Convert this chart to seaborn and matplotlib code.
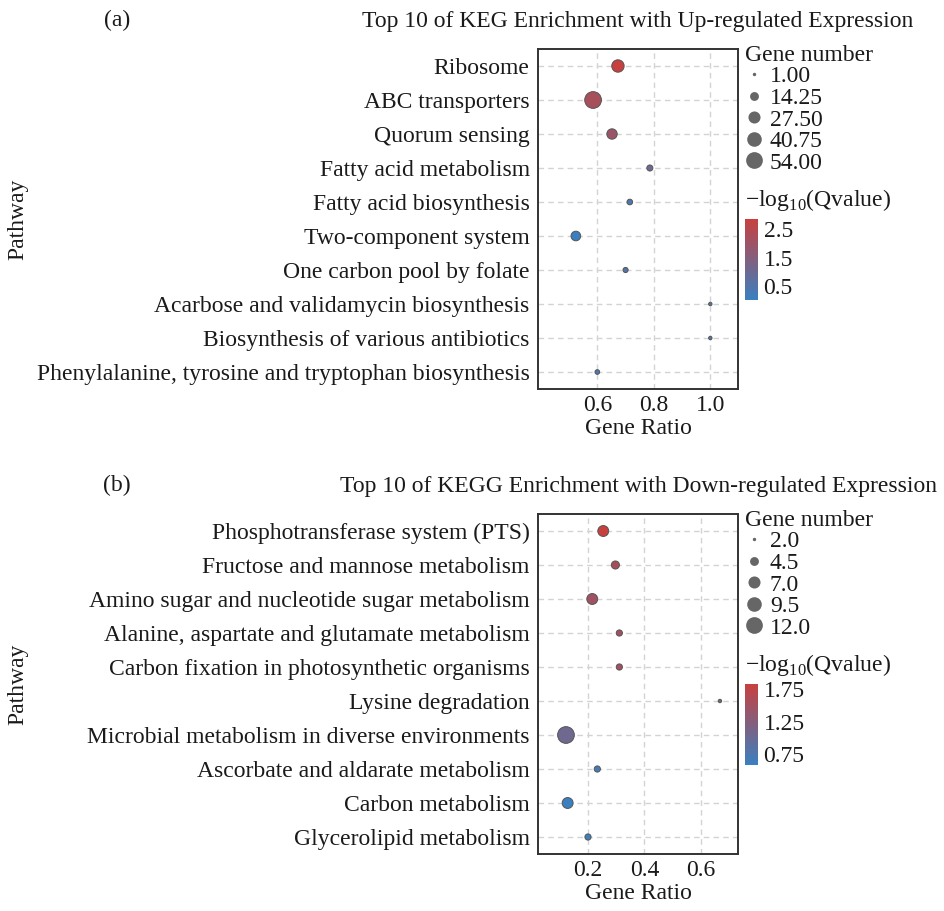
"""
KEGG enrichment bubble plots (up / down regulated)
"""
import numpy as np
import pandas as pd
import matplotlib
matplotlib.use("Agg")
import matplotlib.pyplot as plt
import matplotlib.cm as cm
from matplotlib.colors import LinearSegmentedColormap, Normalize
from matplotlib.lines import Line2D
import seaborn as sns

sns.set_style("white")
plt.rcParams["font.family"] = ["Liberation Serif", "DejaVu Serif"]
plt.rcParams["mathtext.fontset"] = "custom"
plt.rcParams["mathtext.rm"] = "Liberation Serif"
plt.rcParams["text.color"] = "#1a1a1a"
plt.rcParams["xtick.color"] = "#1a1a1a"
plt.rcParams["ytick.color"] = "#1a1a1a"
plt.rcParams["axes.labelcolor"] = "#1a1a1a"

W, H = 944, 911
FS = 17
CMAP = LinearSegmentedColormap.from_list("bluered", ["#3a80c0", "#c8403e"])
SMIN, SMAX = 6, 145

# --- (a) up-regulated ---
UP_PATHWAYS = [
    "Ribosome",
    "ABC transporters",
    "Quorum sensing",
    "Fatty acid metabolism",
    "Fatty acid biosynthesis",
    "Two-component system",
    "One carbon pool by folate",
    "Acarbose and validamycin biosynthesis",
    "Biosynthesis of various antibiotics",
    "Phenylalanine, tyrosine and tryptophan biosynthesis",
]
UP_RATIO = [0.673, 0.585, 0.652, 0.786, 0.715, 0.524, 0.700, 1.0, 1.0, 0.600]
UP_GENES = [29, 54, 20, 6, 5, 17, 4, 1, 1, 3]
UP_QVAL = [2.85, 2.2, 1.95, 1.05, 0.45, 0.02, 0.55, 0.5, 0.5, 0.35]
UP_XTICKS = [0.6, 0.8, 1.0]
UP_QTICKS = [0.5, 1.0, 1.5, 2.0, 2.5]
UP_QLABELS = ["0.5", "", "1.5", "", "2.5"]

# --- (b) down-regulated ---
DOWN_PATHWAYS = [
    "Phosphotransferase system (PTS)",
    "Fructose and mannose metabolism",
    "Amino sugar and nucleotide sugar metabolism",
    "Alanine, aspartate and glutamate metabolism",
    "Carbon fixation in photosynthetic organisms",
    "Lysine degradation",
    "Microbial metabolism in diverse environments",
    "Ascorbate and aldarate metabolism",
    "Carbon metabolism",
    "Glycerolipid metabolism",
]
DOWN_RATIO = [0.254, 0.297, 0.215, 0.311, 0.311, 0.667, 0.122, 0.233, 0.128, 0.200]
DOWN_GENES = [6, 4, 6, 3, 3, 2, 12, 3, 6, 3]
DOWN_QVAL = [1.83, 1.55, 1.48, 1.5, 1.5, 1.15, 1.05, 0.68, 0.58, 0.62]
DOWN_XTICKS = [0.2, 0.4, 0.6]
DOWN_QTICKS = [0.75, 1.0, 1.25, 1.5, 1.75]
DOWN_QLABELS = ["0.75", "", "1.25", "", "1.75"]


def fx(px):
    return px / W


def fy(py):
    return 1 - py / H


def draw_panel(fig, top, pathways, ratio, genes, qval, title, tag,
               xticks, xlim, qticks, qlabels, size_fmt):
    # top = pixel y of the axes top edge
    ax = fig.add_axes([fx(538), fy(top + 340), fx(200), 340 / H])
    df = pd.DataFrame({"pathway": pathways, "ratio": ratio,
                       "genes": genes, "q": qval})
    gmin, gmax = min(genes), max(genes)
    qmin, qmax = min(qval), max(qval)

    sns.scatterplot(data=df, x="ratio", y="pathway", size="genes",
                    sizes=(SMIN, SMAX), size_norm=(gmin, gmax),
                    hue="q", palette=CMAP, hue_norm=(qmin, qmax),
                    edgecolor="#555555", linewidth=0.7, legend=False,
                    ax=ax, zorder=3)

    ax.set_ylim(len(pathways) - 0.5, -0.5)
    ax.set_xlim(*xlim)
    ax.set_xticks(xticks)
    ax.set_xticklabels([f"{t:.1f}" for t in xticks])
    ax.grid(True, linestyle=(0, (4, 3)), color="#d3d3d3", linewidth=1)
    ax.set_axisbelow(True)
    for sp in ax.spines.values():
        sp.set_color("#333333")
        sp.set_linewidth(1.4)
    ax.tick_params(direction="in", length=3, color="#333333", labelsize=FS,
                   width=1)
    ax.tick_params(axis="y", pad=6)
    ax.tick_params(axis="x", pad=4)
    ax.set_xlabel("Gene Ratio", fontsize=FS, labelpad=2)
    ax.set_ylabel("Pathway", fontsize=FS)
    ax.yaxis.set_label_coords(-2.55, 0.5)
    ax.set_title(title, fontsize=FS, pad=16)
    fig.text(fx(117), fy(top - 29), tag, fontsize=FS, ha="center", va="center")

    # size legend
    levels = np.linspace(gmin, gmax, 5)
    handles = []
    for v in levels:
        s = SMIN + (v - gmin) / (gmax - gmin) * (SMAX - SMIN)
        handles.append(Line2D([], [], ls="", marker="o", markersize=np.sqrt(s),
                              markerfacecolor="#666666", markeredgewidth=0))
    ax.legend(handles, [size_fmt.format(v) for v in levels],
              title="Gene number", loc="upper left",
              bbox_to_anchor=(1.035, 1.012), frameon=False, fontsize=FS,
              title_fontsize=FS, handletextpad=0.25, labelspacing=0.0,
              borderaxespad=0, borderpad=0, handlelength=0.8,
              alignment="left")

    # colour bar
    fig.text(fx(745), fy(top + 151), "\u2212log$_{10}$(Qvalue)", fontsize=FS,
             ha="left", va="center")
    cax = fig.add_axes([fx(745), fy(top + 251), fx(13), 81 / H])
    sm = cm.ScalarMappable(norm=Normalize(qmin, qmax), cmap=CMAP)
    cb = fig.colorbar(sm, cax=cax)
    cb.outline.set_visible(False)
    cb.set_ticks(qticks)
    cb.set_ticklabels(qlabels)
    cax.tick_params(direction="in", length=3, color="white", labelcolor="#1a1a1a",
                    left=True, right=True, labelsize=FS, pad=4, width=0.8)
    return ax


fig = plt.figure(figsize=(W / 100, H / 100), dpi=100)

draw_panel(fig, 49, UP_PATHWAYS, UP_RATIO, UP_GENES, UP_QVAL,
           "Top 10 of KEG Enrichment with Up-regulated Expression", "(a)",
           UP_XTICKS, (0.39, 1.098), UP_QTICKS, UP_QLABELS, "{:.2f}")
draw_panel(fig, 514, DOWN_PATHWAYS, DOWN_RATIO, DOWN_GENES, DOWN_QVAL,
           "Top 10 of KEGG Enrichment with Down-regulated Expression", "(b)",
           DOWN_XTICKS, (0.023, 0.731), DOWN_QTICKS, DOWN_QLABELS, "{:.1f}")

fig.savefig("out.png", dpi=100)
